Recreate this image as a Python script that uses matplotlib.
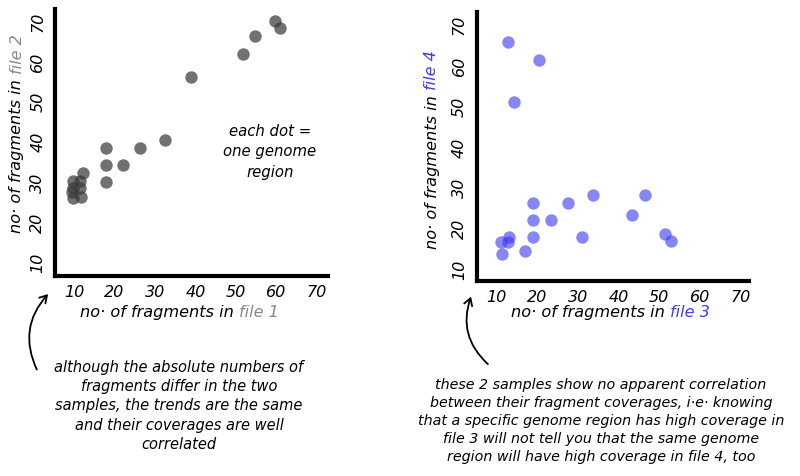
import matplotlib
matplotlib.use('Agg')
import matplotlib.pyplot as plt
from matplotlib.patches import FancyArrowPatch
from matplotlib.transforms import IdentityTransform

# ---- data ----
file1 = [9.8, 11.5, 9.8, 11.5, 9.4, 9.8, 11.6, 12.1, 17.9, 17.9, 17.9, 22.2, 26.3, 32.4, 38.9, 51.6, 54.8, 59.6, 60.9]
file2 = [30.2, 30.2, 28.5, 28.3, 27.4, 25.8, 26.1, 32.1, 38.4, 34.2, 30.0, 34.2, 38.4, 40.4, 55.9, 61.6, 66.3, 69.8, 68.1]
file3 = [12.7, 20.5, 14.3, 11.0, 12.9, 13.0, 11.3, 16.9, 19.0, 19.0, 19.0, 23.3, 27.5, 33.6, 30.9, 43.3, 46.6, 51.5, 52.8]
file4 = [65.7, 61.1, 51.0, 16.5, 16.7, 17.9, 13.7, 14.3, 17.9, 22.0, 26.2, 22.0, 26.2, 28.1, 17.7, 23.3, 28.0, 18.5, 16.9]
ticks = [10, 20, 30, 40, 50, 60, 70]
tick_labels = ['10', '20', '30', '40', '50', '60', '70']

note_left = ("although the absolute numbers of\nfragments differ in the two\n"
             "samples, the trends are the same\nand their coverages are well\ncorrelated")
note_right = ("these 2 samples show no apparent correlation\n"
              "between their fragment coverages, i·e· knowing\n"
              "that a specific genome region has high coverage in\n"
              "file 3 will not tell you that the same genome\n"
              "region will have high coverage in file 4, too")
dot_note = "each dot =\none genome\nregion"

FONT = dict(family='DejaVu Sans', style='oblique')
GRAY = '#888888'
BLUE = '#3c3cf0'
H = 477

fig = plt.figure(figsize=(8, 4.77), dpi=100)
fig.patch.set_facecolor('white')


def make_axes(rect, xlim, ylim):
    ax = fig.add_axes(rect)
    ax.set_xlim(*xlim)
    ax.set_ylim(*ylim)
    for s in ('top', 'right'):
        ax.spines[s].set_visible(False)
    for s in ('left', 'bottom'):
        ax.spines[s].set_linewidth(3)
        ax.spines[s].set_capstyle('projecting')
    ax.set_xticks(ticks)
    ax.set_xticklabels(tick_labels, fontsize=11.5, **FONT)
    ax.set_yticks(ticks)
    ax.set_yticklabels(tick_labels, fontsize=11.5, rotation=90, va='center', **FONT)
    ax.tick_params(length=0)
    ax.tick_params(axis='x', pad=6)
    ax.tick_params(axis='y', pad=7)
    ax.patch.set_alpha(0)
    return ax


ax1 = make_axes([55 / 800, (H - 277) / H, (328 - 55) / 800, (277 - 10) / H], (5.3, 72.7), (6.5, 72.9))
ax1.scatter(file1, file2, s=80, color='#3a3a3a', alpha=0.72, linewidths=0)

ax2 = make_axes([476.7 / 800, (H - 281.7) / H, (749 - 476.7) / 800, (281.7 - 13.3) / H], (5.1, 72.1), (7.1, 72.9))
ax2.scatter(file3, file4, s=80, color=BLUE, alpha=0.62, linewidths=0)

fig.canvas.draw()
renderer = fig.canvas.get_renderer()


def two_tone(cx, cy, parts, rotation=0, size=11.6):
    """Draw multi-coloured text centred at image pixel (cx, cy)."""
    texts = []
    for s, c in parts:
        t = fig.text(0, 0, s, color=c, fontsize=size, rotation=rotation,
                     ha='left', va='center', rotation_mode='anchor',
                     transform=IdentityTransform(), **FONT)
        texts.append(t)
    exts = [t.get_window_extent(renderer) for t in texts]
    if rotation == 0:
        total = sum(e.width for e in exts)
        x = cx - total / 2
        for t, e in zip(texts, exts):
            t.set_position((x, H - cy))
            x += e.width
    else:
        total = sum(e.height for e in exts)
        y = (H - cy) - total / 2
        for t, e in zip(texts, exts):
            t.set_position((cx, y))
            y += e.height


two_tone(179, 313, [('no· of fragments in ', 'black'), ('file 1', GRAY)])
two_tone(610, 313, [('no· of fragments in ', 'black'), ('file 3', BLUE)])
two_tone(17, 134, [('no· of fragments in ', 'black'), ('file 2', GRAY)], rotation=90)
two_tone(432, 150, [('no· of fragments in ', 'black'), ('file 4', BLUE)], rotation=90)

fig.text(270, H - 152, dot_note, ha='center', va='center', fontsize=10.7,
         linespacing=1.45, transform=IdentityTransform(), **FONT)
fig.text(179, H - 406, note_left, ha='center', va='center', fontsize=10.5,
         linespacing=1.35, transform=IdentityTransform(), **FONT)
fig.text(601, H - 421, note_right, ha='center', va='center', fontsize=10.3,
         linespacing=1.38, transform=IdentityTransform(), **FONT)

for tail, head in [((38, 373), (50, 293)), ((490, 367), (472, 295))]:
    arr = FancyArrowPatch((tail[0], H - tail[1]), (head[0], H - head[1]),
                          connectionstyle='arc3,rad=-0.35',
                          arrowstyle='->,head_length=5,head_width=3',
                          lw=1.3, color='black', transform=IdentityTransform())
    fig.add_artist(arr)

fig.savefig('out.png', dpi=100)
